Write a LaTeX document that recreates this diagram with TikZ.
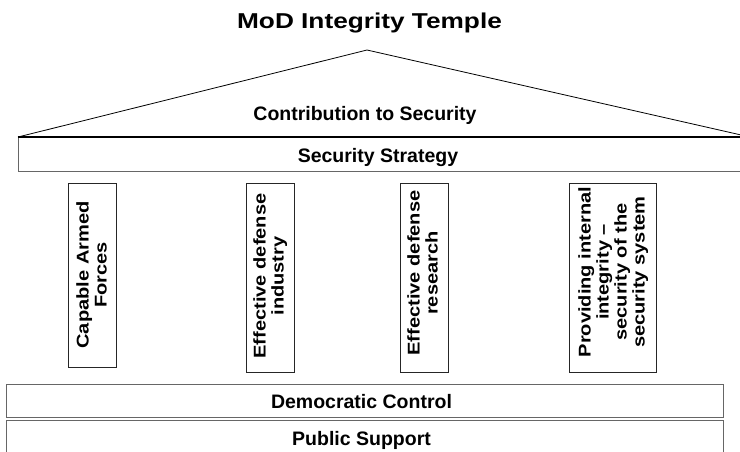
\documentclass[tikz,border=0pt]{standalone}
\usepackage{fontspec}
\setmainfont{Liberation Sans}
\newcommand{\plabel}[1]{\scalebox{1.18}[1]{\fontsize{17}{18}\selectfont\begin{tabular}{@{}c@{}}#1\end{tabular}}}
\begin{document}
\begin{tikzpicture}[x=1pt,y=-1pt,
  lbl/.style={font=\bfseries\fontsize{19.5}{22}\selectfont, inner sep=0pt, anchor=base},
  band/.style={draw=black!60, line width=1.2pt},
  pillar/.style={draw=black!85, line width=0.9pt, inner sep=0pt},
  ptext/.style={rotate=90, align=center, inner sep=0pt, font=\bfseries}]
\clip (0,0) rectangle (740,451);
\fill[white] (0,0) rectangle (740,451);
% title
\node[inner sep=0pt, anchor=base, font=\bfseries\fontsize{21.5}{24}\selectfont] (title) at (369.5,28) {\scalebox{1.22}[1]{MoD Integrity Temple}};
% roof
\coordinate (rl) at (18,137);
\coordinate (ra) at (367,50);
\coordinate (rr) at (750,137);
\draw[black, line width=0.8pt, line join=miter] (rl) -- (ra) -- (rr);
\node[lbl] (contrib) at (365,120) {Contribution to Security};
% security strategy band
\node[band, minimum width=732, minimum height=34, anchor=north west] (ss) at (18,137) {};
\draw[black, line width=1.5pt] (rl) -- (rr);
\node[lbl] (sstext) at (378,162) {Security Strategy};
% pillars
\node[pillar, minimum width=48, minimum height=184] (p1) at (92,275) {};
\node[pillar, minimum width=48, minimum height=189] (p2) at (270,277.5) {};
\node[pillar, minimum width=48, minimum height=189] (p3) at (424,277.5) {};
\node[pillar, minimum width=87, minimum height=189] (p4) at (612.5,277.5) {};
\node[ptext] (t1) at (94,275) {\plabel{Capable Armed\\Forces}};
\node[ptext] (t2) at (271,276) {\plabel{Effective defense\\industry}};
\node[ptext] (t3) at (425,273) {\plabel{Effective defense\\research}};
\node[ptext] (t4) at (614,272) {\plabel{Providing internal\\integrity --\\security of the\\security system}};
% base bands
\node[band, minimum width=717, minimum height=33, anchor=north west] (dc) at (6,384) {};
\node[lbl] (dctext) at (361.5,408) {Democratic Control};
\node[band, minimum width=717, minimum height=50, anchor=north west] (ps) at (6,420) {};
\node[lbl] (pstext) at (361.5,445) {Public Support};
\end{tikzpicture}
\end{document}
